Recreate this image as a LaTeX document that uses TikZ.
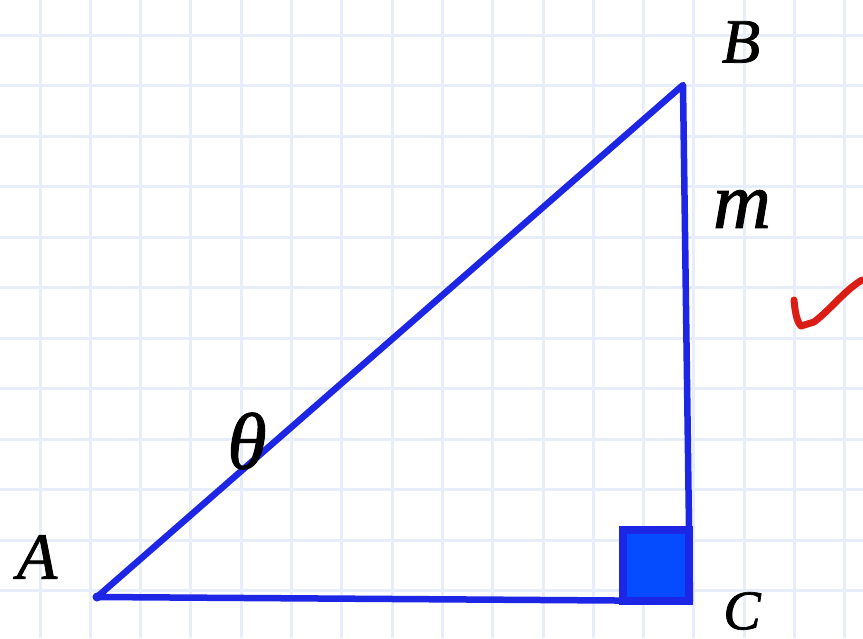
\documentclass[tikz,border=0pt]{standalone}
\usepackage{fontspec}
\setmainfont{Liberation Serif}[ItalicFeatures={FakeBold=1.2}]
\definecolor{gridc}{RGB}{231,237,249}
\definecolor{tri}{RGB}{30,38,230}
\definecolor{sqfill}{RGB}{5,75,255}
\definecolor{chk}{RGB}{218,30,22}
\tikzset{
  side/.style={draw=tri,line width=6.5pt,line cap=round,line join=round},
  lbl/.style={inner sep=0pt,font=\itshape},
}
\begin{document}
\begin{tikzpicture}[x=1pt,y=-1pt]
\useasboundingbox (0,0) rectangle (863,638);
\fill[white] (0,0) rectangle (863,638);
% grid
\foreach \i in {0,...,16} {
  \draw[gridc,line width=3pt] ({40+50.3*\i},0) -- ({40+50.3*\i},638);
}
\foreach \j in {0,...,12} {
  \draw[gridc,line width=3pt] (0,{35+50.5*\j}) -- (863,{35+50.5*\j});
}
\coordinate (A) at (97,597);
\coordinate (B) at (683,85);
\coordinate (C) at (690,601);
% right angle square
\draw[tri,fill=sqfill,line width=8pt] (623,530) rectangle (689,601);
\draw[side] (A) -- (B) -- (C) -- cycle;
\fill[tri] (A) circle (4.5);
% labels
\node[lbl,font=\fontsize{66}{66}\selectfont\itshape] (lA) at (37,557) {A};
\node[lbl,font=\fontsize{63}{63}\selectfont\itshape] (lB) at (741,42) {B};
\node[lbl,font=\fontsize{56}{56}\selectfont\itshape] (lC) at (742,611) {C};
\node[lbl,font=\fontsize{80}{80}\selectfont\itshape] (lm) at (742,209) {m};
\node[lbl,font=\fontsize{80}{80}\selectfont\itshape] (lt) at (247,441) {θ};
% check mark
\draw[chk,line width=7pt,line cap=round,line join=round]
  (794,300) .. controls (795,312) and (797,322) .. (801,326)
  -- (814,322) .. controls (830,310) and (845,290) .. (862,280);
\end{tikzpicture}
\end{document}
